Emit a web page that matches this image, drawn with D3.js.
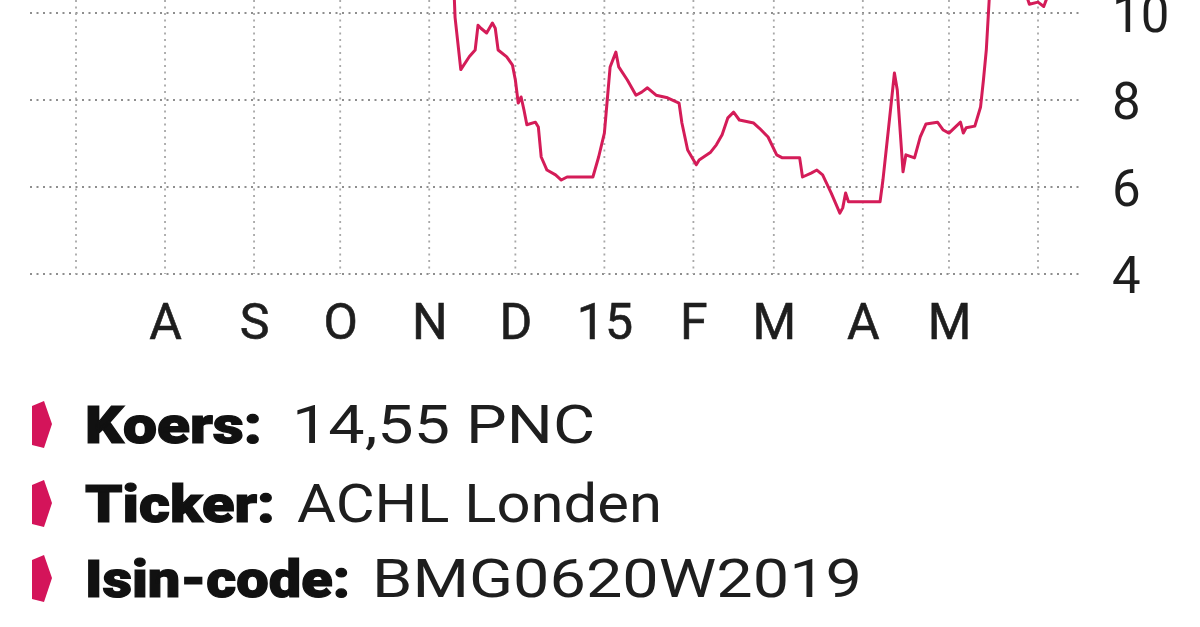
<!DOCTYPE html>
<html>
<head>
<meta charset="utf-8">
<script src="https://cdn.jsdelivr.net/npm/d3@7"></script>
<style>
  html, body { margin: 0; padding: 0; background: #fff; }
  svg { display: block; }
</style>
</head>
<body>
<svg id="chart" width="1200" height="627"></svg>
<script>
// ---- data ----
const dates = [
  "2014-07-01","2014-07-15","2014-08-01","2014-08-20","2014-09-10","2014-10-01","2014-10-20","2014-11-05",
  "2014-11-09","2014-11-10","2014-11-12","2014-11-15","2014-11-17","2014-11-18","2014-11-19","2014-11-21",
  "2014-11-23","2014-11-24","2014-11-25","2014-11-28","2014-11-30","2014-12-01","2014-12-02","2014-12-03",
  "2014-12-04","2014-12-05","2014-12-08","2014-12-09","2014-12-10","2014-12-12","2014-12-15","2014-12-17",
  "2014-12-19","2014-12-28","2014-12-30","2015-01-01","2015-01-02","2015-01-03","2015-01-05","2015-01-06",
  "2015-01-09","2015-01-12","2015-01-14","2015-01-16","2015-01-19","2015-01-23","2015-01-27","2015-01-28",
  "2015-01-30","2015-02-02","2015-02-03","2015-02-07","2015-02-09","2015-02-11","2015-02-13","2015-02-15",
  "2015-02-17","2015-02-22","2015-02-24","2015-02-27","2015-03-02","2015-03-04","2015-03-10","2015-03-11",
  "2015-03-14","2015-03-16","2015-03-18","2015-03-21","2015-03-24","2015-03-25","2015-03-26","2015-03-27",
  "2015-04-07","2015-04-08","2015-04-10","2015-04-12","2015-04-13","2015-04-15","2015-04-16","2015-04-19",
  "2015-04-21","2015-04-23","2015-04-27","2015-04-29","2015-05-01","2015-05-04","2015-05-05","2015-05-06",
  "2015-05-07","2015-05-10","2015-05-12","2015-05-13","2015-05-14","2015-05-15","2015-05-18","2015-05-22",
  "2015-05-27","2015-05-29","2015-06-01","2015-06-03","2015-06-05"
];
const prices = [
  12.8,13.2,12.5,13.5,12.9,12.2,11.8,11.2,
  11.6,9.9,8.7,9.0,9.15,9.72,9.65,9.54,
  9.77,9.65,9.15,8.99,8.8,8.46,7.93,8.07,
  7.77,7.43,7.49,7.38,6.69,6.39,6.28,6.16,
  6.23,6.23,6.69,7.24,8.0,8.76,9.1,8.76,
  8.46,8.11,8.18,8.28,8.11,8.05,7.93,7.47,
  6.85,6.51,6.62,6.8,6.97,7.2,7.59,7.72,
  7.54,7.47,7.35,7.15,6.74,6.67,6.67,6.23,
  6.32,6.39,6.28,5.86,5.4,5.52,5.86,5.66,
  5.66,6.16,7.38,8.62,8.23,6.35,6.74,6.67,
  7.15,7.45,7.49,7.31,7.24,7.43,7.49,7.24,
  7.36,7.4,7.84,8.46,9.15,10.3,12.0,11.4,
  10.6,10.2,10.25,10.15,10.5
];
const yTicks = [4, 6, 8, 10];
const monthLabels = ["A","S","O","N","D","15","F","M","A","M"];
const infoLabels = ["Koers:", "Ticker:", "Isin-code:"];
const infoValues = ["14,55 PNC", "ACHL Londen", "BMG0620W2019"];

// ---- setup ----
const svg = d3.select("#chart");
const parse = d3.timeParse("%Y-%m-%d");
const series = dates.map((d, i) => ({ date: parse(d), value: prices[i] }));

const x = d3.scaleTime()
  .domain([new Date(2014, 6, 1), new Date(2015, 5, 1)])
  .range([76, 1038]);
const y = d3.scaleLinear().domain([4, 10]).range([274, 13]);

const gridColor = "#8e8e8e";
const lineColor = "#d41c58";
const font = "Roboto, 'Liberation Sans', sans-serif";

// horizontal grid
svg.append("g").selectAll("line").data(yTicks).join("line")
  .attr("x1", 30).attr("x2", 1080)
  .attr("y1", d => y(d)).attr("y2", d => y(d))
  .attr("stroke", gridColor).attr("stroke-width", 2)
  .attr("stroke-dasharray", "2,4.5");

// vertical grid at month starts
const monthStarts = d3.timeMonth.range(new Date(2014, 6, 1), new Date(2015, 5, 2));
svg.append("g").selectAll("line").data(monthStarts).join("line")
  .attr("x1", d => x(d)).attr("x2", d => x(d))
  .attr("y1", y(10.6)).attr("y2", y(4))
  .attr("stroke", "#a8a8a8").attr("stroke-width", 1.8)
  .attr("stroke-dasharray", "2,4.5");

// line
const line = d3.line().x(d => x(d.date)).y(d => y(d.value));
svg.append("path").datum(series)
  .attr("d", line)
  .attr("fill", "none")
  .attr("stroke", lineColor)
  .attr("stroke-width", 3)
  .attr("stroke-linejoin", "round");

// right axis labels
const yAxis = d3.axisRight(y).tickValues(yTicks).tickSize(0).tickPadding(0).tickFormat(d3.format("d"));
const gy = svg.append("g").attr("transform", "translate(1112,0)").call(yAxis);
gy.select(".domain").remove();
gy.selectAll("text")
  .attr("x", 0)
  .attr("dy", "0.36em")
  .attr("text-anchor", "start")
  .style("font-family", font)
  .style("font-size", "51px")
  .style("fill", "#1e1e1e");

// bottom month axis
const labelMonths = d3.timeMonth.range(new Date(2014, 7, 1), new Date(2015, 4, 2));
const xAxis = d3.axisBottom(x).tickValues(labelMonths).tickSize(0).tickPadding(0)
  .tickFormat((d, i) => monthLabels[i]);
const gx = svg.append("g").attr("transform", "translate(0,339)").call(xAxis);
gx.select(".domain").remove();
gx.selectAll("text")
  .attr("y", 0).attr("dy", 0)
  .style("font-family", font)
  .style("font-size", "50px")
  .style("fill", "#1e1e1e")
  .style("stroke", "#1e1e1e").style("stroke-width", 0.6);

// info block
const rowsY = [443, 522, 597];
const labelWidths = [177, 190, 265];
const valueX = [292, 297, 372];
const valueWidths = [303, 365, 490];
const info = svg.append("g");
infoLabels.forEach((lab, i) => {
  const by = rowsY[i];
  info.append("path")
    .attr("d", `M32,${by-37} L44,${by-42} L52,${by-19} L44,${by+5} L32,${by+2} Z`)
    .attr("fill", "#d4145a");
  info.append("text")
    .attr("x", 85).attr("y", by)
    .attr("textLength", labelWidths[i]).attr("lengthAdjust", "spacingAndGlyphs")
    .style("font-family", font).style("font-size", "52px").style("font-weight", 900)
    .style("fill", "#111").style("stroke", "#111").style("stroke-width", 1.2)
    .text(lab);
  info.append("text")
    .attr("x", valueX[i]).attr("y", by)
    .attr("textLength", valueWidths[i]).attr("lengthAdjust", "spacingAndGlyphs")
    .style("font-family", font).style("font-size", "53px")
    .style("fill", "#1e1e1e")
    .text(infoValues[i]);
});
</script>
</body>
</html>
